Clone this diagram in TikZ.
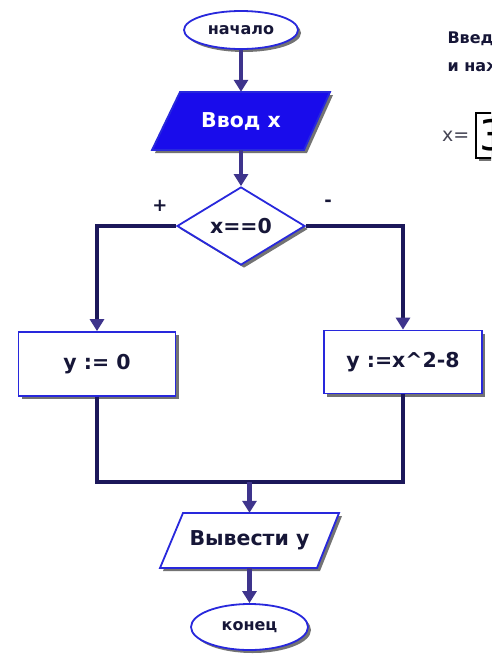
\documentclass[tikz,border=0pt]{standalone}
\usepackage{fontspec}
\setmainfont{DejaVu Sans}
\usetikzlibrary{shapes.geometric,arrows.meta,shadows}
\definecolor{navy}{RGB}{28,24,90}
\definecolor{arrowc}{RGB}{62,52,140}
\definecolor{edgeb}{RGB}{40,40,220}
\definecolor{inblue}{RGB}{25,12,235}
\definecolor{txt}{RGB}{22,22,55}
\definecolor{greytxt}{RGB}{70,70,85}
\begin{document}
\begin{tikzpicture}[x=1pt,y=-1pt,
  shad/.style={drop shadow={shadow xshift=3pt,shadow yshift=-3pt,fill=black,opacity=0.55}},
  bigtxt/.style={font=\bfseries\fontsize{20.5}{24}\selectfont,text=txt},
  term/.style={ellipse,draw=edgeb,line width=1.8pt,fill=white,inner sep=0pt,shad,
    font=\bfseries\fontsize{16}{19}\selectfont,text=txt},
  procbox/.style={rectangle,draw=edgeb,line width=1.8pt,fill=white,inner sep=0pt,shad,bigtxt},
  decbox/.style={diamond,draw=edgeb,line width=1.8pt,fill=white,inner sep=0pt,shad,bigtxt},
  paratext/.style={rectangle,inner sep=0pt,bigtxt},
  conn/.style={line width=4.5pt,draw=navy,-{Triangle[width=14pt,length=12pt,color=arrowc]}},
  shortarr/.style={line width=4.5pt,draw=arrowc,-{Triangle[width=14pt,length=12pt]}},
  plainline/.style={line width=4.5pt,draw=navy},
  signlbl/.style={font=\bfseries\fontsize{18}{22}\selectfont,text=txt}
]
\clip (0,0) rectangle (491,657);
\fill[white] (0,0) rectangle (491,657);

% start
\node[term,minimum width=114pt,minimum height=38pt] (start) at (241,30) {начало};

% input parallelogram
\fill[black,opacity=0.55] ([shift={(3,3)}]152,150) -- ([shift={(3,3)}]304,150) -- ([shift={(3,3)}]330,92) -- ([shift={(3,3)}]180,92) -- cycle;
\draw[edgeb,line width=1.8pt,fill=inblue] (152,150) -- (304,150) -- (330,92) -- (180,92) -- cycle;
\node[paratext,text=white,minimum width=120pt,minimum height=58pt] (in) at (241,121) {Ввод x};

% decision
\node[decbox,minimum width=128pt,minimum height=78pt] (dec) at (241,226) {x==0};
\node[signlbl] (plus) at (160,206) {+};
\node[signlbl] (minus) at (328,203) {-};

% process boxes
\node[procbox,minimum width=157pt,minimum height=64pt] (yes) at (97,364) {y := 0};
\node[procbox,minimum width=158pt,minimum height=63pt] (no) at (403,362) {y :=x\textasciicircum 2-8};

% output parallelogram
\fill[black,opacity=0.55] ([shift={(3,3)}]160,568) -- ([shift={(3,3)}]317,568) -- ([shift={(3,3)}]339,513) -- ([shift={(3,3)}]183,513) -- cycle;
\draw[edgeb,line width=1.8pt,fill=white] (160,568) -- (317,568) -- (339,513) -- (183,513) -- cycle;
\node[paratext,minimum width=130pt,minimum height=55pt] (out) at (249.5,540.5) {Вывести y};

% end
\node[term,minimum width=117pt,minimum height=46pt] (stop) at (249.5,627) {конец};

% connectors
\coordinate (merge) at (249.5,482);
\draw[shortarr] (start.south) -- (in.north);
\draw[shortarr] (in.south) -- (dec.north);
\draw[conn] (dec.west) -| (yes.north);
\draw[conn] (dec.east) -| (no.north);
\draw[plainline] (yes.south) |- (merge);
\draw[plainline] (no.south) |- (merge);
\draw[shortarr] (merge) -- (out.north);
\draw[shortarr] (out.south) -- (stop.north);

% panel at right, cut off by the picture's edge as in the reference
\node[anchor=base west,font=\bfseries\fontsize{16}{19}\selectfont,text=txt] (t1) at (444,43) {Введите};
\node[anchor=base west,font=\bfseries\fontsize{16}{19}\selectfont,text=txt] (t2) at (444,71) {и нажмите};
\node[anchor=west,inner sep=0pt,font=\fontsize{19}{22}\selectfont,text=greytxt] (xeq) at (442,136) {x=};
\node[anchor=west,draw=black,line width=1.5pt,fill=white,shad,inner xsep=4pt,inner ysep=0pt,
  minimum height=45pt,font=\fontsize{42}{46}\selectfont,text=black] (val) at (475,135.5) {3};
\end{tikzpicture}
\end{document}
